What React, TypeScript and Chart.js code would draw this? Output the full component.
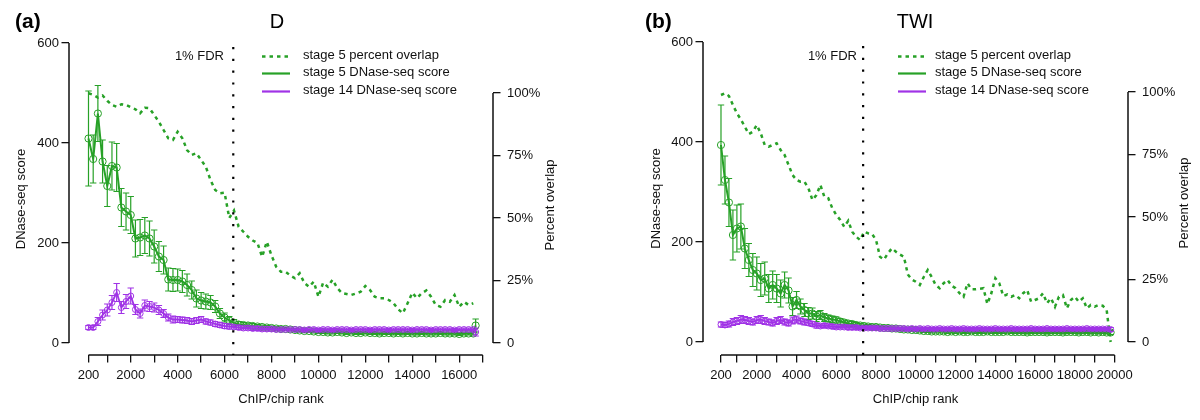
import React, { useEffect, useRef } from "react";
import { Chart, registerables } from "chart.js";
Chart.register(...registerables);

const FONT = '"Liberation Sans", Arial, Helvetica, sans-serif';
const INK = "#111111";
const GREEN = "#27a127";
const PURPLE = "#a033e6";

// rank bins (each bin holds 200 ChIP/chip peaks; value plotted at the bin end)
const binEnds = (n: number) => Array.from({ length: n }, (_, i) => 200 * (i + 1));

const legendLabels = ["stage 5 percent overlap", "stage 5 DNase-seq score", "stage 14 DNase-seq score"];
const yTicks = [0, 200, 400, 600];
const pctTicks = [0, 25, 50, 75, 100];

// ---------------- panel (a): D ----------------
const ranksA = [...binEnds(83), 16700];
const s5ScoreA = [
  409, 368, 459, 363, 314, 354, 351, 271, 263, 256,
  209, 211, 215, 209, 193, 173, 166, 127, 126, 126,
  123, 116, 106, 89, 85, 83, 81, 73, 59, 51,
  45, 40, 37, 36, 35, 34, 33, 32, 31, 30,
  29, 28, 28, 27, 26, 25, 24, 24, 23, 22,
  22, 21, 21, 22, 21, 20, 21, 20, 20, 21,
  20, 20, 19, 20, 20, 19, 20, 19, 20, 19,
  19, 20, 19, 19, 19, 20, 19, 19, 19, 18,
  19, 19, 19, 35,
];
const s5ErrA = [
  95, 48, 56, 43, 41, 48, 48, 38, 37, 37,
  37, 36, 36, 35, 33, 30, 28, 23, 23, 22,
  22, 22, 18, 17, 16, 15, 14, 12, 10, 9,
  8, 7, 6, 5, 5, 5, 4, 4, 4, 4,
  4, 4, 3, 3, 3, 3, 3, 3, 3, 3,
  3, 3, 3, 3, 3, 3, 3, 3, 3, 3,
  3, 3, 3, 3, 3, 3, 3, 3, 3, 3,
  3, 3, 3, 3, 3, 3, 3, 3, 3, 3,
  3, 3, 3, 13,
];
const s14ScoreA = [
  31, 31, 43, 56, 66, 81, 101, 71, 83, 94,
  67, 59, 75, 73, 71, 66, 59, 51, 47, 47,
  46, 45, 43, 45, 47, 43, 41, 38, 36, 34,
  33, 32, 31, 30, 30, 29, 29, 28, 28, 28,
  27, 27, 27, 27, 27, 27, 26, 27, 27, 26,
  27, 27, 26, 27, 27, 27, 26, 27, 27, 27,
  26, 27, 27, 27, 26, 27, 27, 27, 27, 26,
  27, 27, 27, 26, 27, 27, 27, 27, 26, 27,
  27, 27, 27, 22,
];
const s14ErrA = [
  4, 4, 8, 10, 12, 14, 18, 12, 14, 16,
  10, 9, 11, 10, 9, 9, 8, 7, 7, 6,
  6, 6, 6, 6, 6, 5, 5, 5, 5, 5,
  5, 4, 4, 4, 4, 4, 4, 4, 4, 4,
  3, 3, 3, 3, 3, 3, 3, 3, 3, 3,
  3, 3, 3, 3, 3, 3, 3, 3, 3, 3,
  3, 3, 3, 3, 3, 3, 3, 3, 3, 3,
  3, 3, 3, 3, 3, 3, 3, 3, 3, 3,
  3, 3, 3, 8,
];
const overlapA = [
  99.9, 99.3, 98.2, 99, 96.9, 95.2, 94.5, 95.5, 95.2, 94.3,
  93.5, 91.9, 94.1, 93.9, 91.2, 88.5, 85.2, 81.9, 81.2, 84.5,
  81.9, 77.2, 75.2, 75.9, 73.2, 70.5, 65.2, 61.2, 59.9, 60.1,
  50, 53, 46.5, 44.5, 42.5, 41, 40, 34.5, 40.5, 35,
  30.5, 28.5, 28.5, 27, 25.9, 27.9, 24, 22.5, 24.5, 18.5,
  24.1, 22.5, 25.3, 22, 20, 19.6, 19.2, 19.8, 20.5, 22.8,
  21.2, 18.5, 17.9, 17.9, 17.2, 15.9, 13.5, 11.9, 15.9, 20.1,
  17.9, 19.9, 21, 18.5, 15.2, 14.5, 17.2, 16.5, 19.2, 14.5,
  16.5, 15.2, 15.9,
];
const xTicksA = [200, 1000, 2000, 3000, 4000, 5000, 6000, 7000, 8000, 9000, 10000, 11000, 12000, 13000, 14000, 15000, 16000, 17000];
const xLabelsA = ["200", "", "2000", "", "4000", "", "6000", "", "8000", "", "10000", "", "12000", "", "14000", "", "16000", ""];
const fdrA = 6370;

// ---------------- panel (b): TWI ----------------
const ranksB = binEnds(99);
const s5ScoreB = [
  394, 324, 279, 214, 227, 231, 187, 164, 144, 137,
  124, 127, 107, 114, 107, 97, 114, 103, 71, 84,
  71, 64, 57, 57, 51, 54, 49, 47, 45, 44,
  41, 39, 37, 36, 34, 33, 32, 31, 30, 30,
  29, 28, 28, 27, 27, 26, 25, 25, 24, 24,
  23, 22, 22, 21, 21, 21, 21, 20, 21, 20,
  21, 20, 20, 21, 20, 20, 20, 21, 20, 20,
  20, 20, 21, 20, 20, 20, 20, 19, 20, 20,
  20, 20, 19, 20, 20, 20, 19, 20, 20, 20,
  19, 20, 20, 19, 20, 19, 20, 19, 19,
];
const s5ErrB = [
  80, 48, 48, 50, 47, 45, 40, 33, 33, 33,
  33, 33, 28, 28, 28, 27, 26, 25, 18, 17,
  15, 13, 12, 11, 10, 9, 8, 7, 7, 6,
  6, 5, 5, 5, 5, 4, 4, 4, 4, 4,
  3, 3, 3, 3, 3, 3, 3, 3, 3, 3,
  3, 3, 3, 3, 3, 3, 3, 3, 3, 3,
  3, 3, 3, 3, 3, 3, 3, 3, 3, 3,
  3, 3, 3, 3, 3, 3, 3, 3, 3, 3,
  3, 3, 3, 3, 3, 3, 3, 3, 3, 3,
  3, 3, 3, 3, 3, 3, 3, 3, 4,
];
const s14ScoreB = [
  35, 34, 36, 40, 42, 45, 44, 42, 40, 44,
  45, 42, 40, 38, 42, 44, 40, 38, 43, 45,
  42, 40, 38, 36, 33, 32, 33, 32, 31, 30,
  30, 30, 29, 29, 29, 28, 28, 28, 28, 28,
  27, 27, 27, 27, 27, 27, 27, 26, 27, 26,
  27, 26, 27, 26, 26, 27, 26, 26, 27, 26,
  26, 27, 26, 26, 26, 27, 26, 26, 26, 27,
  26, 26, 26, 27, 26, 26, 26, 26, 27, 26,
  26, 26, 27, 26, 26, 26, 26, 27, 26, 26,
  26, 26, 27, 26, 26, 26, 26, 26, 25,
];
const s14ErrB = [
  5, 5, 6, 7, 7, 8, 7, 7, 6, 7,
  8, 7, 6, 6, 7, 7, 6, 6, 7, 7,
  6, 6, 5, 5, 5, 4, 4, 4, 4, 4,
  4, 4, 4, 4, 4, 3, 3, 3, 3, 3,
  3, 3, 3, 3, 3, 3, 3, 3, 3, 3,
  3, 3, 3, 3, 3, 3, 3, 3, 3, 3,
  3, 3, 3, 3, 3, 3, 3, 3, 3, 3,
  3, 3, 3, 3, 3, 3, 3, 3, 3, 3,
  3, 3, 3, 3, 3, 3, 3, 3, 3, 3,
  3, 3, 3, 3, 3, 3, 3, 3, 4,
];
const overlapB = [
  98.8, 99.5, 98.4, 94.8, 91.5, 89, 86.1, 83.2, 84.1, 86.8,
  83.5, 78.8, 78.1, 78.8, 79.5, 76.8, 74.8, 70.8, 66.8, 64.8,
  64.1, 64.1, 61.5, 56.8, 58.8, 62.8, 58.1, 57.5, 53.5, 50.8,
  48.8, 46.1, 48.5, 44.1, 42.1, 40.8, 44.1, 43.5, 43.2, 40.8,
  34.1, 33, 35.5, 37.5, 36.1, 35, 34.1, 27, 25, 24.1,
  22.8, 26, 28.8, 26, 22.8, 21.5, 23.5, 24.8, 22.5, 21.5,
  19.5, 18.1, 23.5, 21.1, 21.1, 21.3, 21.5, 15.2, 19.5, 25.5,
  23.5, 18.4, 19, 18.1, 18.8, 17.5, 19.5, 20.8, 16.1, 16.8,
  17.5, 19.5, 15.5, 17.5, 14.1, 18.1, 18.8, 13.5, 16.8, 18.1,
  16.1, 17.5, 13.5, 14.8, 14.1, 14.8, 14.5, 12.8, 0,
];
const xTicksB = [200, 1000, 2000, 3000, 4000, 5000, 6000, 7000, 8000, 9000, 10000, 11000, 12000, 13000, 14000, 15000, 16000, 17000, 18000, 19000, 20000];
const xLabelsB = ["200", "", "2000", "", "4000", "", "6000", "", "8000", "", "10000", "", "12000", "", "14000", "", "16000", "", "18000", "", "20000"];
const fdrB = 7350;

type Spec = {
  letter: string; gene: string;
  ranks: number[]; s5: number[]; s5Err: number[]; s14: number[]; s14Err: number[]; overlap: number[];
  xTicks: number[]; xLabels: string[]; fdr: number;
  layout: {
    letterX: number; geneX: number; xMin: number; xMax: number; yMin: number; y1Min: number;
    padTop: number; leftW: number; rightW: number; yTitlePad: number; fdrLabelX: number;
    legX1: number; legX2: number; legTextX: number; rTitleX: number; rTitleY: number;
  };
};

const specA: Spec = {
  letter: "(a)", gene: "D", ranks: ranksA, s5: s5ScoreA, s5Err: s5ErrA, s14: s14ScoreA, s14Err: s14ErrA,
  overlap: overlapA, xTicks: xTicksA, xLabels: xLabelsA, fdr: fdrA,
  layout: {
    letterX: 15, geneX: 277, xMin: -631, xMax: 17440, yMin: -24, y1Min: -4.8, padTop: 43,
    leftW: 69, rightW: 107, yTitlePad: 13.2, fdrLabelX: 224, legX1: 262, legX2: 290, legTextX: 303,
    rTitleX: 550, rTitleY: 205,
  },
};
const specB: Spec = {
  letter: "(b)", gene: "TWI", ranks: ranksB, s5: s5ScoreB, s5Err: s5ErrB, s14: s14ScoreB, s14Err: s14ErrB,
  overlap: overlapB, xTicks: xTicksB, xLabels: xLabelsB, fdr: fdrB,
  layout: {
    letterX: 45, geneX: 315, xMin: -705, xMax: 20674, yMin: -26, y1Min: -5.2, padTop: 42,
    leftW: 103, rightW: 72, yTitlePad: 48.2, fdrLabelX: 257, legX1: 298, legX2: 326, legTextX: 335,
    rTitleX: 584, rTitleY: 203,
  },
};

function decorPlugin(s: Spec) {
  const L = s.layout;
  return {
    id: "decor",
    afterDatasetDraw(chart: any, args: any) {
      if (args.index > 1) return;
      const vals = args.index === 0 ? s.s14 : s.s5;
      const errs = args.index === 0 ? s.s14Err : s.s5Err;
      const { ctx } = chart;
      const xs = chart.scales.x;
      const ys = chart.scales.y;
      ctx.save();
      ctx.strokeStyle = args.index === 0 ? PURPLE : GREEN;
      ctx.lineWidth = 1.2;
      ctx.beginPath();
      for (let i = 0; i < vals.length; i++) {
        const x = xs.getPixelForValue(s.ranks[i]);
        const t = ys.getPixelForValue(vals[i] + errs[i]);
        const b = ys.getPixelForValue(vals[i] - errs[i]);
        ctx.moveTo(x, t); ctx.lineTo(x, b);
        ctx.moveTo(x - 3.2, t); ctx.lineTo(x + 3.2, t);
        ctx.moveTo(x - 3.2, b); ctx.lineTo(x + 3.2, b);
      }
      ctx.stroke();
      ctx.restore();
    },
    afterDraw(chart: any) {
      const { ctx, chartArea } = chart;
      const xs = chart.scales.x, ys = chart.scales.y, y1 = chart.scales.y1;
      ctx.save();
      // axis lines
      ctx.strokeStyle = INK;
      ctx.lineWidth = 1.5;
      ctx.beginPath();
      ctx.moveTo(chartArea.left, ys.getPixelForValue(yTicks[0]));
      ctx.lineTo(chartArea.left, ys.getPixelForValue(yTicks[yTicks.length - 1]));
      ctx.moveTo(xs.getPixelForValue(s.xTicks[0]), chartArea.bottom);
      ctx.lineTo(xs.getPixelForValue(s.xTicks[s.xTicks.length - 1]), chartArea.bottom);
      ctx.moveTo(chartArea.right, y1.getPixelForValue(pctTicks[0]));
      ctx.lineTo(chartArea.right, y1.getPixelForValue(pctTicks[pctTicks.length - 1]));
      ctx.stroke();
      // FDR dotted line
      const fx = xs.getPixelForValue(s.fdr);
      ctx.strokeStyle = "#000";
      ctx.lineWidth = 2.2;
      ctx.setLineDash([2.2, 9.6]);
      ctx.beginPath();
      ctx.moveTo(fx, chartArea.top + 4);
      ctx.lineTo(fx, chartArea.bottom);
      ctx.stroke();
      ctx.setLineDash([]);
      ctx.fillStyle = INK;
      ctx.font = `13px ${FONT}`;
      ctx.textBaseline = "middle";
      ctx.textAlign = "right";
      ctx.fillText("1% FDR", L.fdrLabelX, 56);
      // legend
      const rows = [56.5, 73.5, 91.5];
      const styles = [
        { c: GREEN, w: 2.5, d: [3.5, 4] },
        { c: GREEN, w: 2.2, d: [] },
        { c: PURPLE, w: 2.2, d: [] },
      ];
      ctx.textAlign = "left";
      rows.forEach((ry, i) => {
        ctx.strokeStyle = styles[i].c;
        ctx.lineWidth = styles[i].w;
        ctx.setLineDash(styles[i].d);
        ctx.beginPath();
        ctx.moveTo(L.legX1, ry);
        ctx.lineTo(L.legX2, ry);
        ctx.stroke();
        ctx.setLineDash([]);
        ctx.fillText(legendLabels[i], L.legTextX, ry - 1);
      });
      // right axis title
      ctx.save();
      ctx.translate(L.rTitleX, L.rTitleY);
      ctx.rotate(-Math.PI / 2);
      ctx.textAlign = "center";
      ctx.fillText("Percent overlap", 0, 0);
      ctx.restore();
      // panel letter and gene
      ctx.font = `bold 21px ${FONT}`;
      ctx.textAlign = "left";
      ctx.fillStyle = "#000";
      ctx.fillText(s.letter, L.letterX, 22);
      ctx.font = `20px ${FONT}`;
      ctx.textAlign = "center";
      ctx.fillText(s.gene, L.geneX, 22);
      ctx.restore();
    },
  };
}

function buildConfig(s: Spec): any {
  const L = s.layout;
  const pts = (vals: number[]) => vals.map((v, i) => ({ x: s.ranks[i], y: v }));
  const tickFont = { family: FONT, size: 13 };
  const grid = {
    display: true, drawOnChartArea: false, drawTicks: true, tickLength: 7.5,
    lineWidth: 1.3, color: INK, tickColor: INK,
  };
  return {
    type: "line",
    data: {
      datasets: [
        {
          label: legendLabels[2], data: pts(s.s14), yAxisID: "y", borderColor: PURPLE, borderWidth: 1.8,
          pointRadius: 3, pointBorderWidth: 1, pointBorderColor: PURPLE, pointBackgroundColor: "rgba(0,0,0,0)",
          backgroundColor: PURPLE, tension: 0, fill: false,
        },
        {
          label: legendLabels[1], data: pts(s.s5), yAxisID: "y", borderColor: GREEN, borderWidth: 2,
          pointRadius: 3.6, pointBorderWidth: 1, pointBorderColor: GREEN, pointBackgroundColor: "rgba(0,0,0,0)",
          backgroundColor: GREEN, tension: 0, fill: false,
        },
        {
          label: legendLabels[0], data: pts(s.overlap), yAxisID: "y1", borderColor: GREEN, borderWidth: 2.5,
          borderDash: [3.5, 4], pointRadius: 0, tension: 0, fill: false,
        },
      ],
    },
    options: {
      responsive: false,
      animation: false,
      devicePixelRatio: 1,
      layout: { padding: { top: L.padTop, left: 0, right: 0, bottom: 0 } },
      plugins: { legend: { display: false }, tooltip: { enabled: false }, title: { display: false } },
      scales: {
        x: {
          type: "linear", position: "bottom", min: L.xMin, max: L.xMax,
          afterBuildTicks: (sc: any) => { sc.ticks = s.xTicks.map((v) => ({ value: v })); },
          afterFit: (sc: any) => { sc.height = 65; },
          grid, border: { display: false },
          ticks: {
            autoSkip: false, maxRotation: 0, minRotation: 0, padding: 5.5, color: INK, font: tickFont,
            callback: (v: number) => { const k = s.xTicks.indexOf(v); return k >= 0 ? s.xLabels[k] : ""; },
          },
          title: { display: true, text: "ChIP/chip rank", color: INK, font: tickFont, padding: { top: 0, bottom: 13.2 } },
        },
        y: {
          type: "linear", position: "left", min: L.yMin, max: 600,
          afterBuildTicks: (sc: any) => { sc.ticks = yTicks.map((v) => ({ value: v })); },
          afterFit: (sc: any) => { sc.width = L.leftW; },
          grid, border: { display: false },
          ticks: { autoSkip: false, padding: 2.5, color: INK, font: tickFont, callback: (v: number) => String(v) },
          title: { display: true, text: "DNase-seq score", color: INK, font: tickFont, padding: { top: L.yTitlePad, bottom: 0 } },
        },
        y1: {
          type: "linear", position: "right", min: L.y1Min, max: 120,
          afterBuildTicks: (sc: any) => { sc.ticks = pctTicks.map((v) => ({ value: v })); },
          afterFit: (sc: any) => { sc.width = L.rightW; },
          grid, border: { display: false },
          ticks: { autoSkip: false, padding: 6.5, color: INK, font: tickFont, callback: (v: number) => (v === 0 ? "0" : `${v}%`) },
          title: { display: false },
        },
      },
    },
    plugins: [decorPlugin(s)],
  };
}

function Panel({ spec }: { spec: Spec }) {
  const ref = useRef<HTMLCanvasElement | null>(null);
  useEffect(() => {
    if (!ref.current) return;
    const chart = new Chart(ref.current, buildConfig(spec));
    return () => chart.destroy();
  }, [spec]);
  return <canvas ref={ref} width={600} height={420} style={{ display: "block", width: 600, height: 420 }} />;
}

export default function App() {
  return (
    <div style={{ position: "fixed", left: 0, top: 0, width: 1200, height: 420, background: "#fff", display: "flex" }}>
      <Panel spec={specA} />
      <Panel spec={specB} />
    </div>
  );
}
